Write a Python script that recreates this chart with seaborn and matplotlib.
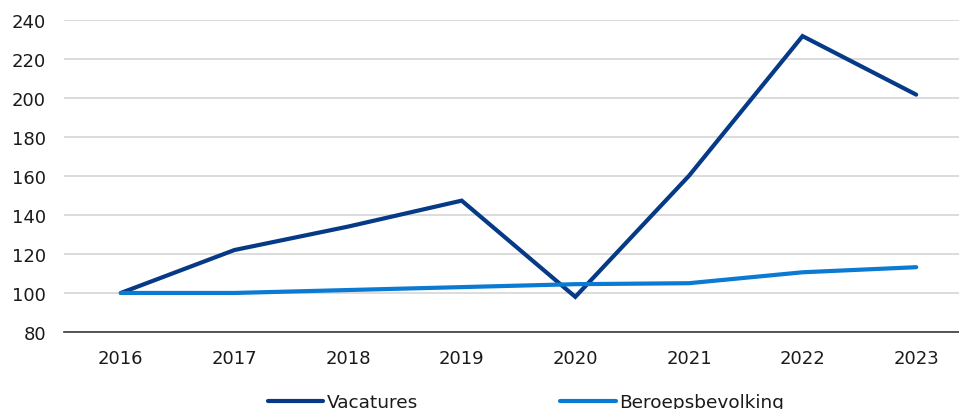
import matplotlib
matplotlib.use("Agg")
import matplotlib.pyplot as plt
import seaborn as sns
import pandas as pd

# Index (2016 = 100)
years = [2016, 2017, 2018, 2019, 2020, 2021, 2022, 2023]
vacatures = [100, 122, 134, 147.3, 98, 160, 231.6, 201.6]
beroepsbevolking = [100, 100, 101.5, 103, 104.5, 105, 110.6, 113.2]
series_names = ["Vacatures", "Beroepsbevolking"]
colors = ["#063a86", "#0a7ad2"]
y_ticks = [80, 100, 120, 140, 160, 180, 200, 220, 240]

df = pd.DataFrame({
    "jaar": years * 2,
    "index": vacatures + beroepsbevolking,
    "reeks": [series_names[0]] * len(years) + [series_names[1]] * len(years),
})

sns.set_style("white")
plt.rcParams["font.family"] = ["DejaVu Sans"]

fig = plt.figure(figsize=(9.59, 4.10), dpi=100)
ax = fig.add_axes([64 / 959, 77 / 410, 909 / 959, 312.3 / 410])

sns.lineplot(data=df, x="jaar", y="index", hue="reeks", hue_order=series_names,
             palette=colors, linewidth=3.0, ax=ax, legend=False,
             solid_capstyle="round", solid_joinstyle="miter")

ax.set_xlim(2015.5, 2023.5)
ax.set_ylim(80, 240)
ax.set_xticks(years)
ax.set_xticklabels([str(y) for y in years])
ax.set_yticks(y_ticks)
ax.set_xlabel("")
ax.set_ylabel("")
ax.yaxis.grid(True, color="#d9d9d9", linewidth=1.3)
ax.set_axisbelow(True)
for side in ["left", "right", "top"]:
    ax.spines[side].set_visible(False)
ax.spines["bottom"].set_color("#3a3a3a")
ax.spines["bottom"].set_linewidth(1.2)
ax.tick_params(axis="both", length=0, labelsize=13, colors="#1a1a1a")
ax.tick_params(axis="y", pad=13)
ax.tick_params(axis="x", pad=12)

handles = [plt.Line2D([], [], color=c, linewidth=3.0, solid_capstyle="round") for c in colors]
fig.legend(handles, series_names, loc="center", bbox_to_anchor=(526 / 959, 7 / 410),
           ncol=2, frameon=False, fontsize=13.3, handlelength=3.0,
           handletextpad=0.2, columnspacing=7.7, borderpad=0, labelcolor="#1a1a1a")

fig.savefig("out.png", dpi=100)
